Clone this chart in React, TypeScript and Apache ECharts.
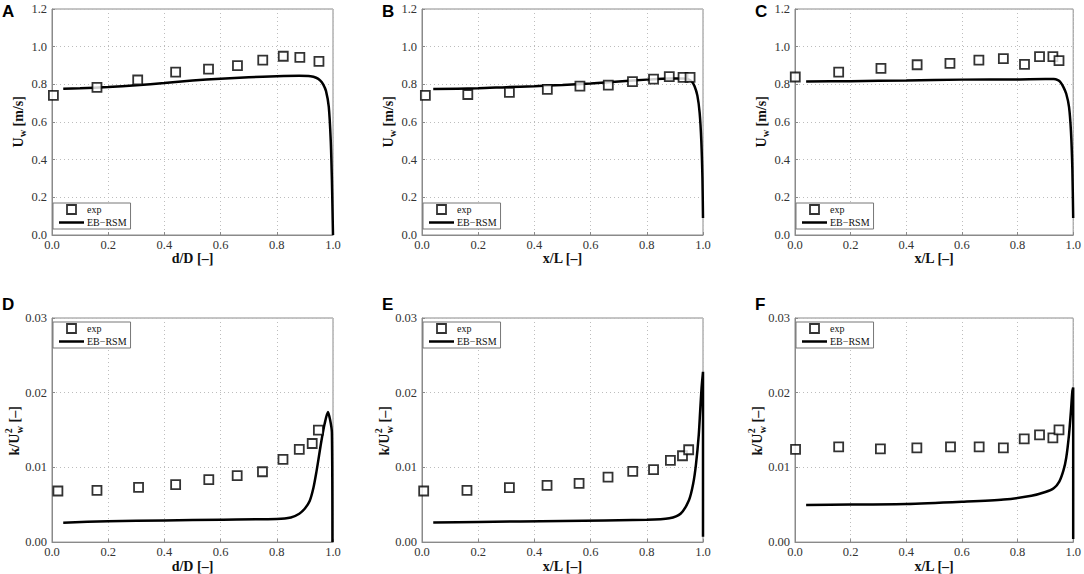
import React, { useEffect, useRef } from "react";
import * as echarts from "echarts";

// ---------- data ----------
const EXP_X_A = [0.005, 0.16, 0.305, 0.44, 0.557, 0.66, 0.75, 0.823, 0.882, 0.95];
const EXP_Y_A = [0.741, 0.784, 0.823, 0.865, 0.881, 0.899, 0.929, 0.949, 0.943, 0.922];
const LINE_X_A = [0.04, 0.1, 0.2, 0.3, 0.4, 0.5, 0.6, 0.7, 0.8, 0.88, 0.92, 0.94, 0.955, 0.965, 0.975, 0.985, 0.992, 0.996, 0.998, 1.0];
const LINE_Y_A = [0.776, 0.779, 0.786, 0.795, 0.807, 0.82, 0.83, 0.838, 0.843, 0.845, 0.843, 0.835, 0.82, 0.8, 0.765, 0.68, 0.5, 0.3, 0.15, 0.0];

const EXP_X_B = [0.012, 0.163, 0.311, 0.446, 0.562, 0.663, 0.749, 0.824, 0.88, 0.929, 0.954];
const EXP_Y_B = [0.741, 0.746, 0.757, 0.773, 0.791, 0.796, 0.814, 0.828, 0.841, 0.837, 0.837];
const LINE_X_B = [0.04, 0.2, 0.3, 0.4, 0.5, 0.6, 0.7, 0.8, 0.88, 0.93, 0.95, 0.96, 0.97, 0.98, 0.988, 0.994, 0.998, 1.0];
const LINE_Y_B = [0.775, 0.779, 0.785, 0.79, 0.797, 0.805, 0.815, 0.825, 0.831, 0.831, 0.825, 0.815, 0.79, 0.74, 0.65, 0.5, 0.3, 0.09];

const EXP_X_C = [0.001, 0.157, 0.309, 0.439, 0.557, 0.661, 0.749, 0.825, 0.879, 0.927, 0.949];
const EXP_Y_C = [0.839, 0.865, 0.885, 0.904, 0.911, 0.929, 0.936, 0.906, 0.947, 0.947, 0.926];
const LINE_X_C = [0.04, 0.2, 0.4, 0.6, 0.8, 0.9, 0.93, 0.945, 0.955, 0.965, 0.975, 0.985, 0.992, 0.997, 1.0];
const LINE_Y_C = [0.815, 0.817, 0.82, 0.825, 0.826, 0.828, 0.828, 0.822, 0.81, 0.785, 0.75, 0.68, 0.55, 0.35, 0.09];

const EXP_X_D = [0.021, 0.16, 0.308, 0.44, 0.558, 0.659, 0.749, 0.822, 0.88, 0.926, 0.948];
const EXP_Y_D = [0.00684, 0.00693, 0.00733, 0.00769, 0.00836, 0.00889, 0.00942, 0.01107, 0.0124, 0.0132, 0.015];
const LINE_X_D = [0.04, 0.2, 0.4, 0.6, 0.8, 0.85, 0.88, 0.9, 0.917, 0.93, 0.941, 0.95, 0.959, 0.97, 0.982, 0.99, 0.996, 0.998];
const LINE_Y_D = [0.0026, 0.0028, 0.0029, 0.003, 0.0031, 0.0033, 0.0038, 0.0045, 0.0055, 0.0072, 0.0094, 0.0115, 0.0136, 0.0158, 0.0174, 0.0163, 0.0147, 0.0];

const EXP_X_E = [0.006, 0.16, 0.311, 0.445, 0.559, 0.662, 0.75, 0.824, 0.884, 0.927, 0.949];
const EXP_Y_E = [0.00684, 0.00693, 0.00729, 0.0076, 0.00787, 0.00871, 0.00947, 0.00969, 0.01093, 0.01156, 0.01236];
const LINE_X_E = [0.04, 0.2, 0.5, 0.8, 0.88, 0.92, 0.95, 0.965, 0.975, 0.985, 0.99, 0.995, 1.0, 1.0];
const LINE_Y_E = [0.00262, 0.0027, 0.00284, 0.003, 0.0032, 0.0038, 0.0056, 0.0078, 0.0104, 0.0144, 0.0176, 0.0207, 0.0228, 0.0007];

const EXP_X_F = [0.002, 0.157, 0.307, 0.438, 0.559, 0.662, 0.749, 0.824, 0.879, 0.927, 0.949];
const EXP_Y_F = [0.0124, 0.01276, 0.01249, 0.01262, 0.01276, 0.01276, 0.01262, 0.01382, 0.01436, 0.01396, 0.01502];
const LINE_X_F = [0.04, 0.2, 0.4, 0.6, 0.75, 0.85, 0.9, 0.93, 0.95, 0.965, 0.975, 0.985, 0.992, 0.997, 1.0, 1.0];
const LINE_Y_F = [0.00498, 0.00503, 0.0051, 0.0054, 0.0057, 0.0062, 0.0067, 0.0072, 0.0081, 0.0096, 0.0113, 0.0144, 0.0176, 0.0202, 0.0207, 0.0004];

const PANEL_LABELS = ["A", "B", "C", "D", "E", "F"];
const X_TITLES = ["d/D [\u2013]", "x/L [\u2013]", "x/L [\u2013]", "d/D [\u2013]", "x/L [\u2013]", "x/L [\u2013]"];
const SERIES_EXP = "exp";
const SERIES_MODEL = "EB\u2212RSM";

const EXP_X = [EXP_X_A, EXP_X_B, EXP_X_C, EXP_X_D, EXP_X_E, EXP_X_F];
const EXP_Y = [EXP_Y_A, EXP_Y_B, EXP_Y_C, EXP_Y_D, EXP_Y_E, EXP_Y_F];
const LINE_X = [LINE_X_A, LINE_X_B, LINE_X_C, LINE_X_D, LINE_X_E, LINE_X_F];
const LINE_Y = [LINE_Y_A, LINE_Y_B, LINE_Y_C, LINE_Y_D, LINE_Y_E, LINE_Y_F];

// ---------- layout ----------
const GRID_LEFT = [52, 422, 795];
const GRID_TOP = [9, 318];
const GRID_W = 281;
const GRID_H = 226;
const LETTER_X = [2, 382, 755];
const LETTER_Y = [3, 296];
const YTITLE_OFFSET = [34, 38];
const SERIF = "'Liberation Serif', 'Times New Roman', serif";
const SANS = "'Liberation Sans', Arial, sans-serif";

const zip = (xs: number[], ys: number[]) => xs.map((x, i) => [x, ys[i]]);

const txt = (text: string, x: number, y: number, size: number) => ({
  type: "text",
  x,
  y,
  silent: true,
  style: {
    text,
    fill: "#111",
    font: `bold ${size}px ${SERIF}`,
    align: "left",
    verticalAlign: "middle",
  },
});

// y-axis titles laid out horizontally, then rotated into place
function yTitleTop(cx: number, cy: number) {
  // U_w [m/s]   (total width ~51px at 14px)
  const x0 = -25.5;
  return {
    type: "group",
    x: cx,
    y: cy,
    rotation: Math.PI / 2,
    children: [
      txt("U", x0, 0, 14),
      txt("w", x0 + 10.4, 4.5, 10),
      txt(" [m/s]", x0 + 17.6, 0, 14),
    ],
  };
}
function yTitleBottom(cx: number, cy: number) {
  // k/U^2_w [–]   (total width ~49px at 14px)
  const x0 = -24.5;
  return {
    type: "group",
    x: cx,
    y: cy,
    rotation: Math.PI / 2,
    children: [
      txt("k/U", x0, 0, 14),
      txt("2", x0 + 22.2, -5.5, 10),
      txt("w", x0 + 22.2, 5, 10),
      txt(" [\u2013]", x0 + 29.6, 0, 14),
    ],
  };
}

export default function App() {
  const ref = useRef<HTMLDivElement>(null);

  useEffect(() => {
    if (!ref.current) return;
    const chart = echarts.init(ref.current, null, { renderer: "svg" });

    const grids: any[] = [];
    const xAxes: any[] = [];
    const yAxes: any[] = [];
    const series: any[] = [];
    const legends: any[] = [];
    const graphics: any[] = [];

    for (let i = 0; i < 6; i++) {
      const row = i < 3 ? 0 : 1;
      const col = i % 3;
      const left = GRID_LEFT[col];
      const top = GRID_TOP[row];
      const isTop = row === 0;
      grids.push({
        left,
        top,
        width: GRID_W,
        height: GRID_H,
        show: true,
        borderColor: "#8a8a8a",
        borderWidth: 1,
      });
      xAxes.push({
        type: "value",
        gridIndex: i,
        min: 0,
        max: 1,
        interval: 0.2,
        name: X_TITLES[i],
        nameLocation: "middle",
        nameGap: 15,
        nameTextStyle: { fontFamily: SERIF, fontWeight: "bold", fontSize: 14, color: "#111" },
        axisLine: { show: true, lineStyle: { color: "#8a8a8a", width: 1 } },
        axisTick: { show: true, inside: true, length: 3, lineStyle: { color: "#8a8a8a" } },
        splitLine: { show: true, lineStyle: { type: [1, 3], color: "#bdbdbd", width: 1 } },
        axisLabel: {
          fontFamily: SERIF,
          fontSize: 12.5,
          color: "#333",
          margin: 3,
          formatter: (v: number) => v.toFixed(1),
        },
      });
      yAxes.push({
        type: "value",
        gridIndex: i,
        min: 0,
        max: isTop ? 1.2 : 0.03,
        interval: isTop ? 0.2 : 0.01,
        axisLine: { show: true, lineStyle: { color: "#8a8a8a", width: 1 } },
        axisTick: { show: true, inside: true, length: 3, lineStyle: { color: "#8a8a8a" } },
        splitLine: { show: true, lineStyle: { type: [1, 3], color: "#bdbdbd", width: 1 } },
        axisLabel: {
          fontFamily: SERIF,
          fontSize: 12.5,
          color: "#333",
          margin: 5,
          formatter: (v: number) => (isTop ? v.toFixed(1) : v.toFixed(2)),
        },
      });
      series.push({
        type: "scatter",
        name: SERIES_EXP,
        xAxisIndex: i,
        yAxisIndex: i,
        symbol: "rect",
        symbolSize: 9,
        itemStyle: { color: "#ffffff", borderColor: "#000", borderWidth: 1.8 },
        data: zip(EXP_X[i], EXP_Y[i]),
        z: 3,
      });
      series.push({
        type: "line",
        name: SERIES_MODEL,
        xAxisIndex: i,
        yAxisIndex: i,
        symbol: "none",
        showSymbol: false,
        smooth: 0.25,
        lineStyle: { color: "#000", width: 2.5 },
        itemStyle: { color: "#000" },
        data: zip(LINE_X[i], LINE_Y[i]),
        z: 2,
      });
      legends.push({
        orient: "vertical",
        left: left + 1,
        top: isTop ? top + 194 : top + 4,
        itemWidth: 25,
        itemHeight: 9,
        itemGap: 2,
        padding: [1, 4, 1, 6],
        borderColor: "#777",
        borderWidth: 1,
        backgroundColor: "#fff",
        selectedMode: false,
        symbolKeepAspect: true,
        textStyle: { fontFamily: SERIF, fontSize: 10, color: "#111", lineHeight: 11, padding: [0, 0, 0, -2] },
        data: [
          {
            name: SERIES_EXP,
            icon: "path://M0,0L10,0L10,10L0,10Z",
            itemStyle: { color: "#fff", borderColor: "#000", borderWidth: 1.8 },
          },
          {
            name: SERIES_MODEL,
            icon: "path://M0,0L25,0L25,2.5L0,2.5Z",
            itemStyle: { color: "#000", borderWidth: 0 },
          },
        ],
      });
      graphics.push({
        type: "text",
        x: LETTER_X[col],
        y: LETTER_Y[row],
        silent: true,
        style: { text: PANEL_LABELS[i], font: `bold 17px ${SANS}`, fill: "#000" },
      });
      const cx = left - YTITLE_OFFSET[row];
      const cy = top + GRID_H / 2;
      graphics.push(isTop ? yTitleTop(cx, cy) : yTitleBottom(cx, cy));
    }

    chart.setOption({
      animation: false,
      backgroundColor: "#fff",
      grid: grids,
      xAxis: xAxes,
      yAxis: yAxes,
      series,
      legend: legends,
      graphic: graphics,
    });

    return () => chart.dispose();
  }, []);

  return (
    <div
      ref={ref}
      style={{ position: "absolute", left: 0, top: 0, width: 1084, height: 574 }}
    />
  );
}
